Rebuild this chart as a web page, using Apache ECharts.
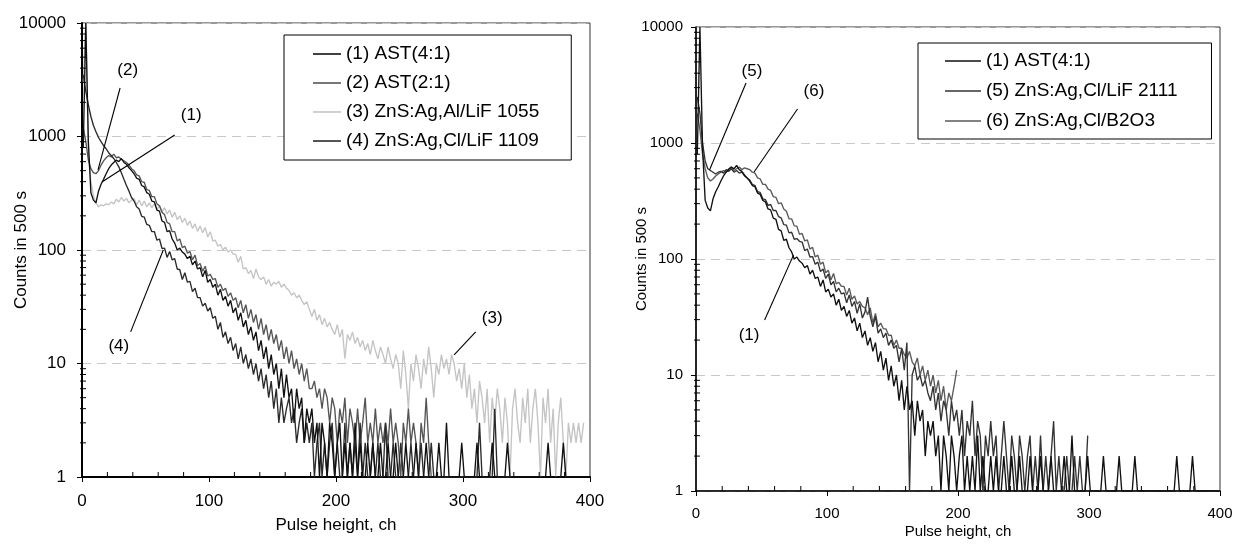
<!DOCTYPE html>
<html><head><meta charset="utf-8">
<script src="https://cdn.jsdelivr.net/npm/echarts@6/dist/echarts.min.js"></script>
<style>html,body{margin:0;padding:0;background:#fff}#c{width:1236px;height:545px}</style>
</head><body><div id="c"></div><script>
// channel numbers (x) shared by all spectra
const CH = [1,3,5,7,9,11,13,15,17,19,21,23,25,27,29,31,33,35,37,39,41,43,45,47,49,51,53,55,57,59,61,63,65,67,69,71,73,75,77,79,81,83,85,87,89,91,93,95,97,99,101,103,105,107,109,111,113,115,117,119,121,123,125,127,129,131,133,135,137,139,141,143,145,147,149,151,153,155,157,159,161,163,165,167,169,171,173,175,177,179,181,183,185,187,189,191,193,195,197,199,201,203,205,207,209,211,213,215,217,219,221,223,225,227,229,231,233,235,237,239,241,243,245,247,249,251,253,255,257,259,261,263,265,267,269,271,273,275,277,279,281,283,285,287,289,291,293,295,297,299,301,303,305,307,309,311,313,315,317,319,321,323,325,327,329,331,333,335,337,339,341,343,345,347,349,351,353,355,357,359,361,363,365,367,369,371,373,375,377,379,381,383,385,387,389,391,393,395,397,399];

// (1) AST(4:1)
const S1 = [800,10000,900,320,275,260,330,380,420,470, 520,560,590,620,600,640,590,570,530,500,
 470,430,420,370,360,320,310,270,265,225, 220,180,175,145,148,125,115,100,104,96,
 92,84,88,74,80,68,70,58,66,52, 55,47,50,40,45,36,39,32,36,28,
 31,24,28,21,24,18,21,16,19,13, 16,11,14,9,12,8,10,6,9,5,
 8,5,6,3,6,4,5,2,4,3, 4,2,3,1,3,2,1,3,2,1,
 2,3,1,2,1,2,1,3,1,2, 1,1,2,1,2,1,1,2,1,1,
 2,1,1,2,1,1,1,2,1,1, 1,2,1,1,1,2,1,1,1,1,
 2,1,1,3,1,1,1,1,1,2, 1,1,1,1,1,2,1,1,1,1,
 1,2,1,1,1,1,1,2,1,1, 1,1,1,1,1,1,1,1,1,1,
 1,1,1,2,1,1,1,1,1,2, 1,1,1,1,1,1,1,1,1,1];
// (2) AST(2:1)
const S2 = [1200,900,620,520,480,470,500,560,610,650, 680,660,700,650,660,630,610,590,560,520,
 500,460,450,400,395,340,335,295,295,255, 245,215,205,175,170,145,145,120,125,105,
 108,94,97,82,90,73,76,65,72,59, 61,55,56,47,50,44,46,39,42,36,
 38,31,36,28,33,25,30,23,27,20, 25,18,22,16,20,15,18,13,16,11,
 14,10,13,9,11,8,10,7,9,6, 6,7,5,6,4,6,5,3,5,4,
 2,4,3,5,2,4,3,2,4,2, 3,5,2,3,2,4,2,3,2,3,
 2,4,2,3,2,1,3,2,4,2, 3,2,1,3,2,5,2,1];
// (3) ZnS:Ag,Al/LiF 1055
const S3 = [3000,10000,700,400,300,260,240,250,245,255, 250,265,255,280,265,290,270,285,260,275,
 285,250,275,245,270,240,260,235,255,228, 245,218,236,208,225,194,215,185,200,175,
 190,165,180,155,170,146,163,142,158,130, 145,120,122,108,112,100,106,96,100,92,
 92,78,88,68,70,62,66,56,68,58, 55,58,50,55,48,52,50,53,47,50,
 46,44,40,42,38,40,36,33,35,30, 26,30,24,27,22,25,21,23,20,18,
 22,17,20,11,18,16,19,15,17,14, 16,13,15,12,16,13,11,14,12,10,
 14,11,9,12,10,6,13,8,4,10, 7,12,9,6,11,8,14,9,5,10,
 8,12,9,11,8,12,10,7,9,6, 10,5,8,4,6,3,7,5,3,6,
 2,5,3,6,4,2,5,3,1,4, 6,3,2,5,3,6,2,4,6,3,
 1,5,3,6,2,4,1,3,5,2, 1,3,2,3,2,3,2,3];
// (4) ZnS:Ag,Cl/LiF 1109
const S4 = [3500,2500,1900,1500,1250,1100,980,900,830,780, 720,680,640,590,540,480,420,370,330,290,
 270,240,230,198,195,168,165,145,145,122, 125,103,104,86,97,82,84,68,67,55,
 63,52,53,43,46,38,38,32,34,29, 31,25,26,20,23,17,19,15,17,13,
 15,11,14,10,12,9,11,8,10,7, 9,6,8,5,7,4,6,3,5,3,
 4,5,3,4,2,3,4,2,3,2, 3,1,2,3,1,2,1,2,3,1,
 2,1,1,3,1,2,1,2,1,3, 1,2,1,1,2,1,2,1,1,3,
 1,1,2,1,1,2,1,1,1,2, 1,1,1,2,1,1,1,2,1,1,
 1,1,1,1,1,1,1,1,1,1, 1,1,1,1,1,1,3,1,1,1,
 1,1,4,1,1,1,1,1,1,1];
// (5) ZnS:Ag,Cl/LiF 2111
const S5 = [2500,1800,1000,700,600,580,560,540,560,570, 550,590,570,600,560,580,550,560,520,500,
 480,440,430,380,375,330,325,290,295,262, 262,232,226,198,196,168,170,148,150,142,
 140,118,122,104,105,90,94,78,82,68, 74,60,64,52,56,50,51,42,49,39,
 43,34,41,31,35,47,32,26,32,23, 25,21,23,18,20,17,18,13,17,11,
 19,1,10,12,9,10,8,9,7,6, 8,5,7,4,6,5,3,6,4,5,
 3,5,2,4,3,6,2,4,3,1, 3,2,4,2,3,1,2,4,2,1,
 3,2,1,3,2,1,2,3,1,2, 1,3,1,2,1,2,4,1,2,1,
 1,2,1,1,2,1,2,1,1,3];
// (6) ZnS:Ag,Cl/B2O3
const S6 = [1800,1300,800,600,500,470,490,520,540,560, 580,560,600,620,580,600,620,590,610,600,
 590,560,550,500,490,440,440,400,390,345, 340,300,305,270,258,222,222,193,192,163,
 166,143,146,122,126,104,108,90,94,76, 80,66,75,61,63,58,58,49,56,45,
 48,41,43,39,38,33,38,28,34,26, 28,25,25,22,22,18,20,17,17,15,
 14,16,13,12,14,10,12,9,11,8, 10,7,9,6,8,5,7,6,8,11];

const NAME1 = '(1) AST(4:1)', NAME2 = '(2) AST(2:1)', NAME3 = '(3) ZnS:Ag,Al/LiF 1055',
      NAME4 = '(4) ZnS:Ag,Cl/LiF 1109', NAME5 = '(5) ZnS:Ag,Cl/LiF 2111', NAME6 = '(6) ZnS:Ag,Cl/B2O3';

const X_TICKS_MINOR = [20,40,60,80,120,140,160,180,220,240,260,280,320,340,360,380];
const Y_TICKS_MINOR = [2,3,4,5,6,7,8,9,20,30,40,50,60,70,80,90,200,300,400,500,600,700,800,900,2000,3000,4000,5000,6000,7000,8000,9000];

// annotation labels [text, channel, counts] and leader lines
const LEFT_NOTES = [['(2)',36,3850],['(1)',86,1550],['(4)',29,14.3],['(3)',323,25]];
const LEFT_LEADERS = [[[30,2675],[12.6,507]],[[73,1030],[15.7,397]],[[38.3,19],[64,100]],[[310,19],[293,11.9]]];
const RIGHT_NOTES = [['(5)',42.7,4180],['(6)',90,2800],['(1)',40.5,22]];
const RIGHT_LEADERS = [[[38.2,3290],[10.3,585]],[[77.5,1965],[44.3,562]],[[52.4,29.8],[74.4,108]]];

const F = "'Liberation Sans', Arial, sans-serif";
const pts = arr => arr.map((v,i)=>[CH[i], v]);

function spec(name, data, color, gi, z){
  return {type:'line', name, data:pts(data), xAxisIndex:gi, yAxisIndex:gi, symbol:'none', showSymbol:false,
    lineStyle:{color, width:1.35}, itemStyle:{color}, z:z||2, animation:false, emphasis:{disabled:true}};
}
function leaders(list, gi){
  return list.map(seg=>({type:'line', data:seg, xAxisIndex:gi, yAxisIndex:gi, symbol:'none',
    lineStyle:{color:'#000', width:1.1}, z:5, animation:false, silent:true}));
}
function notes(list, gi, fs){
  return {type:'scatter', xAxisIndex:gi, yAxisIndex:gi, symbolSize:1, itemStyle:{color:'rgba(0,0,0,0)', opacity:1},
    data:list.map(n=>({name:n[0], value:[n[1],n[2]]})), silent:true, z:6,
    label:{show:true, position:'inside', formatter:'{b}', color:'#000', opacity:1, fontSize:fs, fontFamily:F}};
}
function minorY(gi){
  return {type:'custom', xAxisIndex:gi, yAxisIndex:gi, silent:true, z:7, clip:false,
    data:Y_TICKS_MINOR.map(v=>[0,v]),
    renderItem:(p,api)=>{const c=api.coord([0,api.value(1)]);
      return {type:'line', shape:{x1:c[0]-2,y1:c[1],x2:c[0]+4,y2:c[1]}, style:{stroke:'#000', lineWidth:1}};}};
}
function minorX(gi){
  return {type:'custom', xAxisIndex:gi, yAxisIndex:gi, silent:true, z:7, clip:false,
    data:X_TICKS_MINOR.map(v=>[v,1]),
    renderItem:(p,api)=>{const c=api.coord([api.value(0),1]);
      return {type:'line', shape:{x1:c[0],y1:c[1],x2:c[0],y2:c[1]-5}, style:{stroke:'#000', lineWidth:1}};}};
}
function xAx(gi, fs, gap, lw, margin){
  return {type:'value', gridIndex:gi, min:0, max:400, interval:100,
    name:'Pulse height, ch', nameLocation:'middle', nameGap:gap, nameMoveOverlap:false,
    nameTextStyle:{fontSize:fs, color:'#000', fontFamily:F},
    axisLine:{lineStyle:{color:'#000', width:lw}}, axisTick:{length:5, lineStyle:{color:'#000', width:1}},
    axisLabel:{fontSize:fs, color:'#000', fontFamily:F, margin:margin}, splitLine:{show:false}};
}
function yAx(gi, fs, gap, lw, margin){
  return {type:'log', logBase:10, gridIndex:gi, min:1, max:10000,
    name:'Counts in 500 s', nameLocation:'middle', nameGap:gap, nameMoveOverlap:false,
    nameTextStyle:{fontSize:fs, color:'#000', fontFamily:F},
    axisLine:{lineStyle:{color:'#000', width:lw}}, axisTick:{length:5, lineStyle:{color:'#000', width:1}},
    axisLabel:{fontSize:fs, color:'#000', fontFamily:F, margin:margin, formatter:v=>String(Math.round(v))},
    splitLine:{show:true, lineStyle:{color:'#c8c8c8', type:[9,6], width:1}}};
}
function legend(names, left, top, pad, iw, gap, fs){
  return {data:names, orient:'vertical', left, top, icon:'rect', itemWidth:iw, itemHeight:1.6, itemGap:gap,
    padding:pad, borderColor:'#000', borderWidth:1, backgroundColor:'#fff', selectedMode:false,
    textStyle:{fontSize:fs, color:'#000', fontFamily:F, lineHeight:20}};
}

const chart = echarts.init(document.getElementById('c'), null, {renderer:'canvas'});
chart.setOption({
  animation:false,
  backgroundColor:'#fff',
  grid:[
    {left:82, top:23, width:508, height:454, show:true, borderColor:'#333', borderWidth:1, backgroundColor:'transparent'},
    {left:696, top:27, width:524, height:464, show:true, borderColor:'#333', borderWidth:1, backgroundColor:'transparent'}
  ],
  xAxis:[xAx(0,17,40,2,16), xAx(1,15,33,1.5,15)],
  yAxis:[yAx(0,17,52,2,16), yAx(1,15,47,1.5,13)],
  legend:[
    legend([NAME1,NAME2,NAME3,NAME4], 284, 35, [9,32,9,29], 28, 9, 19),
    legend([NAME1,NAME5,NAME6], 918, 43, [8,34,8,27], 36, 10, 19)
  ],
  series:[
    spec(NAME3, S3, '#c4c4c4', 0, 2),
    spec(NAME2, S2, '#555555', 0, 3),
    spec(NAME4, S4, '#2b2b2b', 0, 3),
    spec(NAME1, S1, '#111111', 0, 4),
    ...leaders(LEFT_LEADERS, 0), notes(LEFT_NOTES, 0, 17), minorY(0), minorX(0),
    spec(NAME6, S6, '#5a5a5a', 1, 2),
    spec(NAME5, S5, '#333333', 1, 3),
    spec(NAME1, S1, '#111111', 1, 4),
    ...leaders(RIGHT_LEADERS, 1), notes(RIGHT_NOTES, 1, 17), minorY(1), minorX(1)
  ]
});
</script></body></html>
